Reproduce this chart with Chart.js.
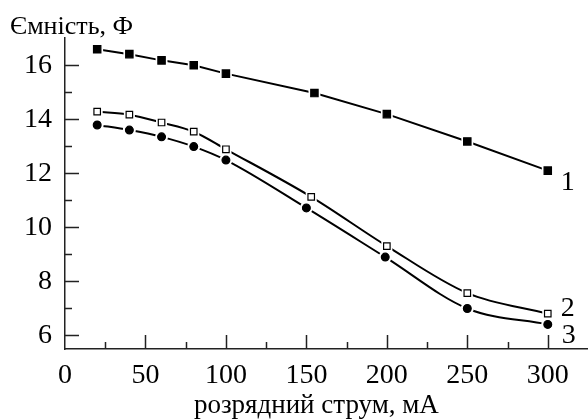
<!DOCTYPE html>
<html>
<head>
<meta charset="utf-8">
<script src="https://cdn.jsdelivr.net/npm/chart.js@4"></script>
<style>
  html, body { margin: 0; padding: 0; background: #fff; }
  canvas { display: block; }
</style>
</head>
<body>
<canvas id="myChart" width="588" height="419" style="width:588px;height:419px"></canvas>
<script>
// ---- data ----
var current1 = [20, 40, 60, 80, 100, 155, 200, 250, 300];
var capacity1 = [16.59, 16.41, 16.18, 16.0, 15.69, 14.97, 14.19, 13.18, 12.1];

var current2 = [20, 40, 60, 80, 100, 153, 200, 250, 300];
var capacity2 = [14.28, 14.17, 13.88, 13.54, 12.89, 11.13, 9.31, 7.57, 6.81];

var current3 = [20, 40, 60, 80, 100, 150, 199, 250, 300];
var capacity3 = [13.79, 13.60, 13.35, 12.99, 12.49, 10.72, 8.90, 7.0, 6.41];

var seriesNames = ['1', '2', '3'];

const AXIS_COLOR = '#222';
const FONT = "'Liberation Serif', 'Times New Roman', serif";

Chart.defaults.font.family = FONT;
Chart.defaults.color = '#000';


// ---- build datasets: line, white halo under marker, marker ----
var seriesList = [
    { name: seriesNames[0], xs: current1, ys: capacity1, style: 'rect',   radius: 5.2, fill: '#000', smooth: false, dx: 20, dy: 12 },
    { name: seriesNames[1], xs: current2, ys: capacity2, style: 'rect',   radius: 4.6, fill: '#fff', smooth: true,  dx: 20, dy: -5 },
    { name: seriesNames[2], xs: current3, ys: capacity3, style: 'circle', radius: 3.9, fill: '#000', smooth: true,  dx: 21, dy: 11 }
];

var alldata = [];
seriesList.forEach(function(s) {
    let points = s.xs.map(function(x, i) { return { x: x, y: s.ys[i] }; });

    alldata.push({
        data: points,
        borderColor: '#000',
        borderWidth: 2,
        pointRadius: 0,
        fill: false,
        tension: s.smooth ? 0.4 : 0,
        cubicInterpolationMode: s.smooth ? 'monotone' : 'default',
        order: 3
    });
    alldata.push({
        data: points,
        showLine: false,
        pointStyle: s.style,
        pointRadius: s.radius + (s.style === 'rect' ? 3.2 : 2.6),
        pointBackgroundColor: '#fff',
        pointBorderWidth: 0,
        order: 2
    });
    alldata.push({
        data: points,
        showLine: false,
        pointStyle: s.style,
        pointRadius: s.radius,
        pointBackgroundColor: s.fill,
        pointBorderColor: '#000',
        pointBorderWidth: 1.2,
        order: 1,
        seriesLabel: s.name,
        labelDx: s.dx,
        labelDy: s.dy
    });
});


// ---- inward ticks (major + minor) ----
const innerTicks = {
    id: 'innerTicks',
    afterDraw(chart) {
        const ctx = chart.ctx;
        const xs = chart.scales.x, ys = chart.scales.y, area = chart.chartArea;
        ctx.save();
        ctx.strokeStyle = AXIS_COLOR;
        ctx.lineWidth = 1.5;
        ctx.beginPath();
        xs.ticks.forEach(t => {
            if (t.value <= 0 || t.value > 300) return;
            const p = Math.round(xs.getPixelForValue(t.value)) + 0.5;
            const len = t.value % 50 === 0 ? 14 : 7;
            ctx.moveTo(p, area.bottom);
            ctx.lineTo(p, area.bottom - len);
        });
        ys.ticks.forEach(t => {
            if (t.value > 16) return;
            const p = Math.round(ys.getPixelForValue(t.value)) + 0.5;
            const len = t.value % 2 === 0 ? 14 : 7;
            ctx.moveTo(area.left, p);
            ctx.lineTo(area.left + len, p);
        });
        ctx.stroke();
        ctx.restore();
    }
};

// ---- curve numbers at the right end ----
const curveLabels = {
    id: 'curveLabels',
    afterDatasetsDraw(chart) {
        const ctx = chart.ctx;
        ctx.save();
        ctx.fillStyle = '#000';
        ctx.font = '28px ' + FONT;
        ctx.textAlign = 'center';
        ctx.textBaseline = 'middle';
        chart.data.datasets.forEach((d, i) => {
            if (!d.seriesLabel) return;
            const meta = chart.getDatasetMeta(i);
            const last = meta.data[meta.data.length - 1];
            ctx.fillText(d.seriesLabel, last.x + d.labelDx, last.y + d.labelDy);
        });
        ctx.restore();
    }
};


var canvas = document.getElementById('myChart').getContext('2d');
var myChart = new Chart(canvas, {
    type: 'line',
    data: { datasets: alldata },
    plugins: [innerTicks, curveLabels],
    options: {
        responsive: false,
        animation: false,
        devicePixelRatio: 1,
        layout: { autoPadding: false, padding: { left: 10, right: 0, top: 0, bottom: 0 } },
        plugins: {
            legend: { display: false },
            tooltip: { enabled: false },
            title: {
                display: true,
                text: 'Ємність, Ф',
                align: 'start',
                color: '#000',
                font: { family: FONT, size: 26, weight: 'normal' },
                padding: { top: 12, bottom: -5 }
            }
        },
        scales: {
            x: {
                type: 'linear',
                min: 0,
                max: 325,
                afterBuildTicks: function(scale) {
                    scale.ticks = scale.ticks.filter(t => t.value <= 300);
                },
                afterFit: function(scale) {
                    scale.height = 70;
                },
                ticks: {
                    stepSize: 25,
                    includeBounds: false,
                    maxRotation: 0,
                    autoSkip: false,
                    padding: 10,
                    color: '#000',
                    font: { family: FONT, size: 28 },
                    callback: function(value) {
                        return value % 50 === 0 ? String(value) : '';
                    }
                },
                grid: { display: false, drawTicks: false },
                border: { display: true, color: AXIS_COLOR, width: 1.5 },
                title: {
                    display: true,
                    text: 'розрядний струм, мА\u00A0\u00A0\u00A0',
                    color: '#000',
                    font: { family: FONT, size: 27 },
                    padding: { top: 0, bottom: -3 }
                }
            },
            y: {
                min: 5.5,
                max: 17,
                afterFit: function(scale) { scale.width = 55; },
                ticks: {
                    stepSize: 1,
                    includeBounds: false,
                    autoSkip: false,
                    padding: 13,
                    color: '#000',
                    font: { family: FONT, size: 28 },
                    callback: function(value) {
                        return (value % 2 === 0 && value <= 16) ? String(value) : '';
                    }
                },
                grid: { display: false, drawTicks: false },
                border: { display: true, color: AXIS_COLOR, width: 1.5 }
            }
        }
    }
});
</script>
</body>
</html>
